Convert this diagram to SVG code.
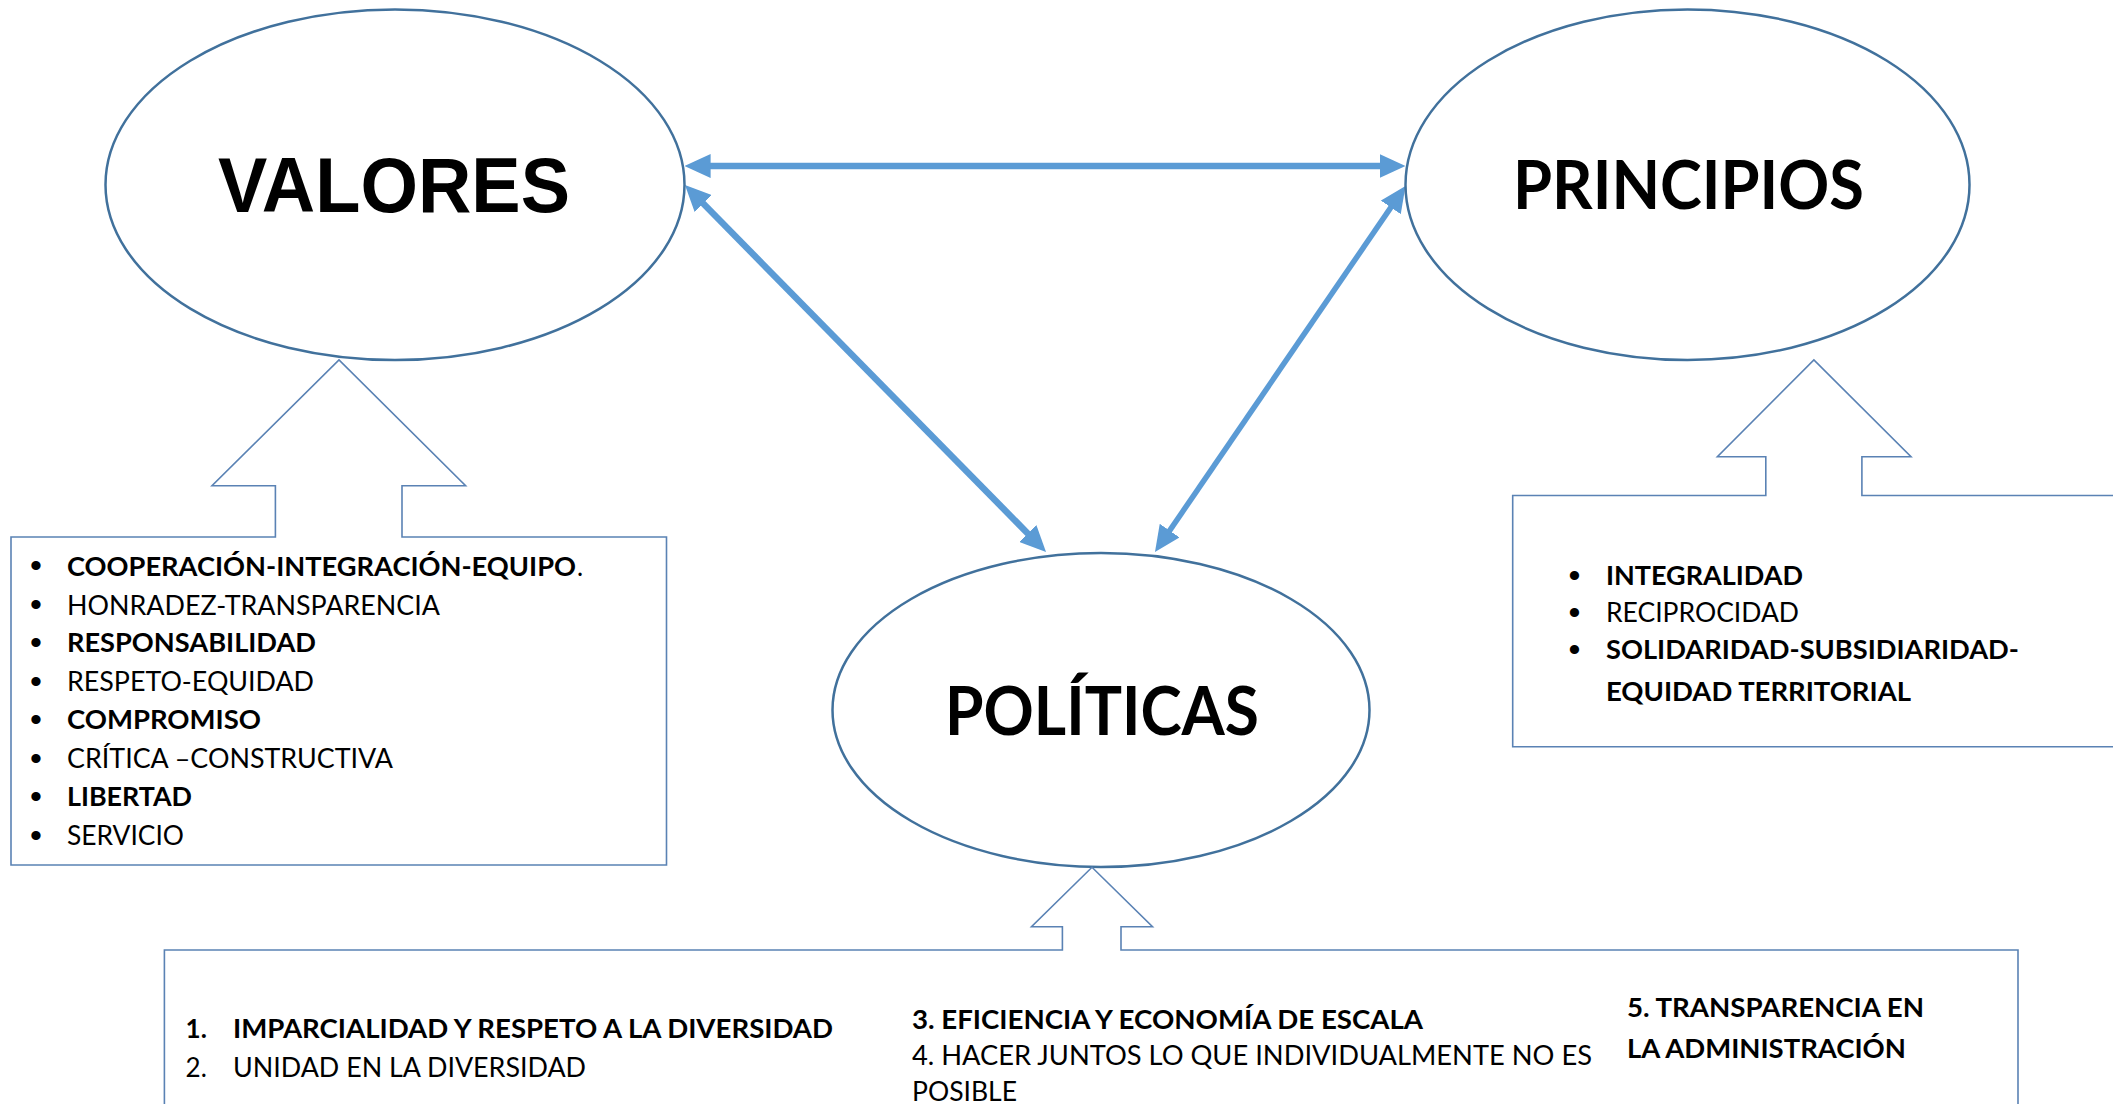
<svg xmlns="http://www.w3.org/2000/svg" width="2113" height="1104" viewBox="0 0 2113 1104">
<style>
.bg{fill:#ffffff}
.ell{fill:#ffffff;stroke:#41719C;stroke-width:2.5}
.blk{fill:none;stroke:#5A82B4;stroke-width:1.6}
.con{stroke:#5B9BD5;fill:none;marker-start:url(#ah);marker-end:url(#ah)}
.t{font-family:Lato,"Noto Sans",sans-serif;font-size:26px;fill:#000}
.b{font-weight:700}
.bul{font-family:"Liberation Sans",Arial,sans-serif;font-size:34px}
.big{font-family:Lato,"Noto Sans",sans-serif;font-weight:700;font-size:66px;fill:#000}
.val{font-family:"Liberation Sans",Arial,sans-serif;font-weight:700;font-size:77px;fill:#000}
</style>
<defs>
<marker id="ah" markerUnits="userSpaceOnUse" viewBox="0 0 26 24" markerWidth="26" markerHeight="24" refX="1" refY="12" orient="auto-start-reverse">
<path d="M0,0 L26,12 L0,24 Z" fill="#5B9BD5"/>
</marker>
</defs>
<rect class="bg" x="0" y="0" width="2113" height="1104"/>

<g id="connectors">
<line class="con" x1="709.6" y1="166" x2="1380.5" y2="166" stroke-width="6.5"/>
<line class="con" x1="702.5" y1="202.8" x2="1028.5" y2="534.2" stroke-width="6.5"/>
<line class="con" x1="1391.4" y1="206.6" x2="1169.1" y2="531.4" stroke-width="5.5"/>
</g>

<g id="valores">
<ellipse class="ell" cx="395" cy="184.7" rx="289.5" ry="175.3"/>
<text class="val" x="394" y="212" text-anchor="middle" textLength="352" lengthAdjust="spacingAndGlyphs">VALORES</text>
</g>

<g id="principios">
<ellipse class="ell" cx="1687.5" cy="184.7" rx="282" ry="175.3"/>
<text class="big" x="1513" y="209" textLength="351" lengthAdjust="spacingAndGlyphs">PRINCIPIOS</text>
</g>

<g id="politicas">
<ellipse class="ell" cx="1101" cy="710" rx="268.5" ry="157"/>
<text class="big" x="945" y="735" textLength="314" lengthAdjust="spacingAndGlyphs">POLÍTICAS</text>
</g>

<g id="valores-list">
<path class="blk" d="M11,537 L275.4,537 L275.4,485.8 L212,485.8 L339,360 L465.6,485.8 L402,485.8 L402,537 L666.5,537 L666.5,865 L11,865 Z"/>
<g class="t">
<text class="bul" x="36" y="577" text-anchor="middle">•</text>
<text class="bul" x="36" y="616" text-anchor="middle">•</text>
<text class="bul" x="36" y="654" text-anchor="middle">•</text>
<text class="bul" x="36" y="693" text-anchor="middle">•</text>
<text class="bul" x="36" y="730.5" text-anchor="middle">•</text>
<text class="bul" x="36" y="769.5" text-anchor="middle">•</text>
<text class="bul" x="36" y="807.5" text-anchor="middle">•</text>
<text class="bul" x="36" y="846.5" text-anchor="middle">•</text>
<text class="b" x="67" y="575.5" textLength="509" lengthAdjust="spacingAndGlyphs">COOPERACIÓN-INTEGRACIÓN-EQUIPO</text>
<text x="577" y="575.5">.</text>
<text x="67" y="614.6" textLength="373" lengthAdjust="spacingAndGlyphs">HONRADEZ-TRANSPARENCIA</text>
<text class="b" x="67" y="652.3" textLength="249" lengthAdjust="spacingAndGlyphs">RESPONSABILIDAD</text>
<text x="67" y="691.4" textLength="247" lengthAdjust="spacingAndGlyphs">RESPETO-EQUIDAD</text>
<text class="b" x="67" y="729" textLength="194" lengthAdjust="spacingAndGlyphs">COMPROMISO</text>
<text x="67" y="768" textLength="326" lengthAdjust="spacingAndGlyphs">CRÍTICA –CONSTRUCTIVA</text>
<text class="b" x="67" y="806" textLength="125" lengthAdjust="spacingAndGlyphs">LIBERTAD</text>
<text x="67" y="845" textLength="117" lengthAdjust="spacingAndGlyphs">SERVICIO</text>
</g>
</g>

<g id="principios-list">
<path class="blk" d="M2125,495.5 L1861.9,495.5 L1861.9,456.7 L1911,456.7 L1813.9,360 L1717.4,456.7 L1765.8,456.7 L1765.8,495.5 L1512.7,495.5 L1512.7,746.7 L2125,746.7"/>
<g class="t">
<text class="bul" x="1574.5" y="586.5" text-anchor="middle">•</text>
<text class="bul" x="1574.5" y="623.8" text-anchor="middle">•</text>
<text class="bul" x="1574.5" y="660.8" text-anchor="middle">•</text>
<text class="b" x="1606" y="585" textLength="197" lengthAdjust="spacingAndGlyphs">INTEGRALIDAD</text>
<text x="1606" y="622.3" textLength="193" lengthAdjust="spacingAndGlyphs">RECIPROCIDAD</text>
<text class="b" x="1606" y="659.3" textLength="413" lengthAdjust="spacingAndGlyphs">SOLIDARIDAD-SUBSIDIARIDAD-</text>
<text class="b" x="1606" y="701" textLength="305" lengthAdjust="spacingAndGlyphs">EQUIDAD TERRITORIAL</text>
</g>
</g>

<g id="politicas-list">
<path class="blk" d="M164.4,1110 L164.4,950 L1062.4,950 L1062.4,926.7 L1031.5,926.7 L1092,867.3 L1152.5,926.7 L1121,926.7 L1121,950 L2018,950 L2018,1110"/>
<g class="t">
<text class="b" x="185.6" y="1038.3">1.</text>
<text class="b" x="233" y="1038.3" textLength="600" lengthAdjust="spacingAndGlyphs">IMPARCIALIDAD Y RESPETO A LA DIVERSIDAD</text>
<text x="185.6" y="1076.7">2.</text>
<text x="233" y="1076.7" textLength="353" lengthAdjust="spacingAndGlyphs">UNIDAD EN LA DIVERSIDAD</text>
<text class="b" x="912" y="1029" textLength="511" lengthAdjust="spacingAndGlyphs">3. EFICIENCIA Y ECONOMÍA DE ESCALA</text>
<text x="912" y="1065" textLength="680" lengthAdjust="spacingAndGlyphs">4. HACER JUNTOS LO QUE INDIVIDUALMENTE NO ES</text>
<text x="912" y="1101" textLength="105" lengthAdjust="spacingAndGlyphs">POSIBLE</text>
<text class="b" x="1627" y="1016.7" textLength="297" lengthAdjust="spacingAndGlyphs">5. TRANSPARENCIA EN</text>
<text class="b" x="1627" y="1058.3" textLength="279" lengthAdjust="spacingAndGlyphs">LA ADMINISTRACIÓN</text>
</g>
</g>
</svg>
